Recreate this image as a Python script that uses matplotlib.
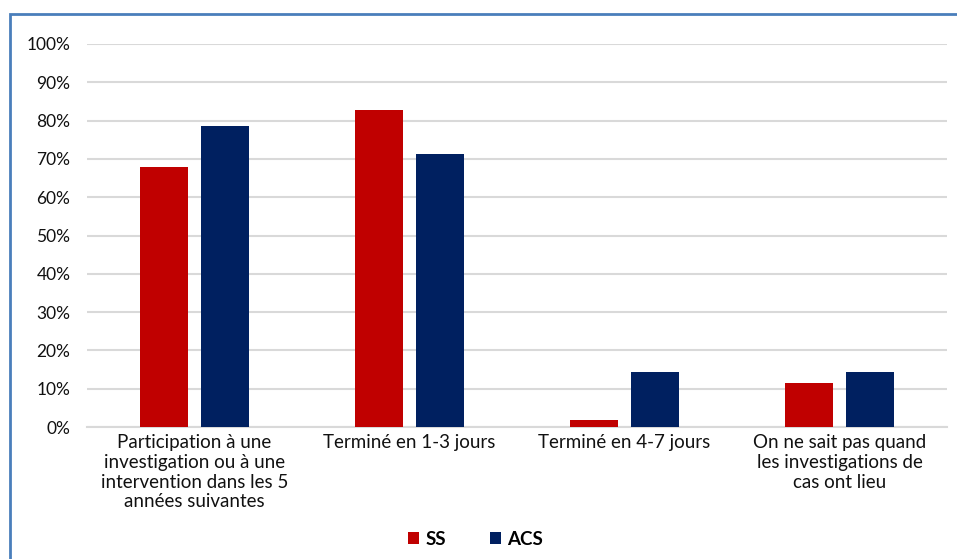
import numpy as np
import matplotlib.pyplot as plt
from matplotlib.patches import Rectangle

plt.rcParams['font.family'] = ['Lato', 'DejaVu Sans']

categories = ['Participation à une\ninvestigation ou à une\nintervention dans les 5\nannées suivantes',
              'Terminé en 1-3 jours',
              'Terminé en 4-7 jours',
              'On ne sait pas quand\nles investigations de\ncas ont lieu']
ss = [68.0, 82.8, 1.8, 11.4]
acs = [78.6, 71.4, 14.3, 14.3]
series = ['SS', 'ACS']
colors = ['#c00000', '#002060']

fig = plt.figure(figsize=(9.57, 5.59), dpi=100)
ax = fig.add_axes([0.0909, 0.2361, 0.8986, 0.6852])

x = np.arange(len(categories))
w = 0.223
ax.bar(x - 0.142, ss, w, color=colors[0], label=series[0], zorder=3)
ax.bar(x + 0.142, acs, w, color=colors[1], label=series[1], zorder=3)

ax.set_xlim(-0.5, len(categories) - 0.5)
ax.set_ylim(0, 100)
ax.set_yticks(np.arange(0, 101, 10))
ax.set_yticklabels([f'{v}%' for v in range(0, 101, 10)], fontsize=12.5, color='#111111')
ax.set_xticks(x)
ax.set_xticklabels(categories, fontsize=13.5, linespacing=1.2, va='top', color='#111111')
ax.tick_params(axis='x', length=0, pad=5)
ax.tick_params(axis='y', length=0, pad=12)
ax.grid(axis='y', color='#d9d9d9', linewidth=1.5, zorder=0)
for s in ['left', 'right', 'top']:
    ax.spines[s].set_visible(False)
ax.spines['bottom'].set_color('#d9d9d9')
ax.spines['bottom'].set_linewidth(1.5)

leg = fig.legend(loc='center', bbox_to_anchor=(0.497, 0.035), ncol=2, frameon=False,
                 prop={'weight': 'bold', 'size': 13.5}, handlelength=0.6, handleheight=0.6,
                 handletextpad=0.35, columnspacing=2.3)

fig.patches.append(Rectangle((10 / 957, -0.1), 1.2, 0.1 + (559 - 14) / 559,
                             transform=fig.transFigure, fill=False,
                             edgecolor='#4a7ebb', linewidth=2))

fig.savefig('out.png', dpi=100)
